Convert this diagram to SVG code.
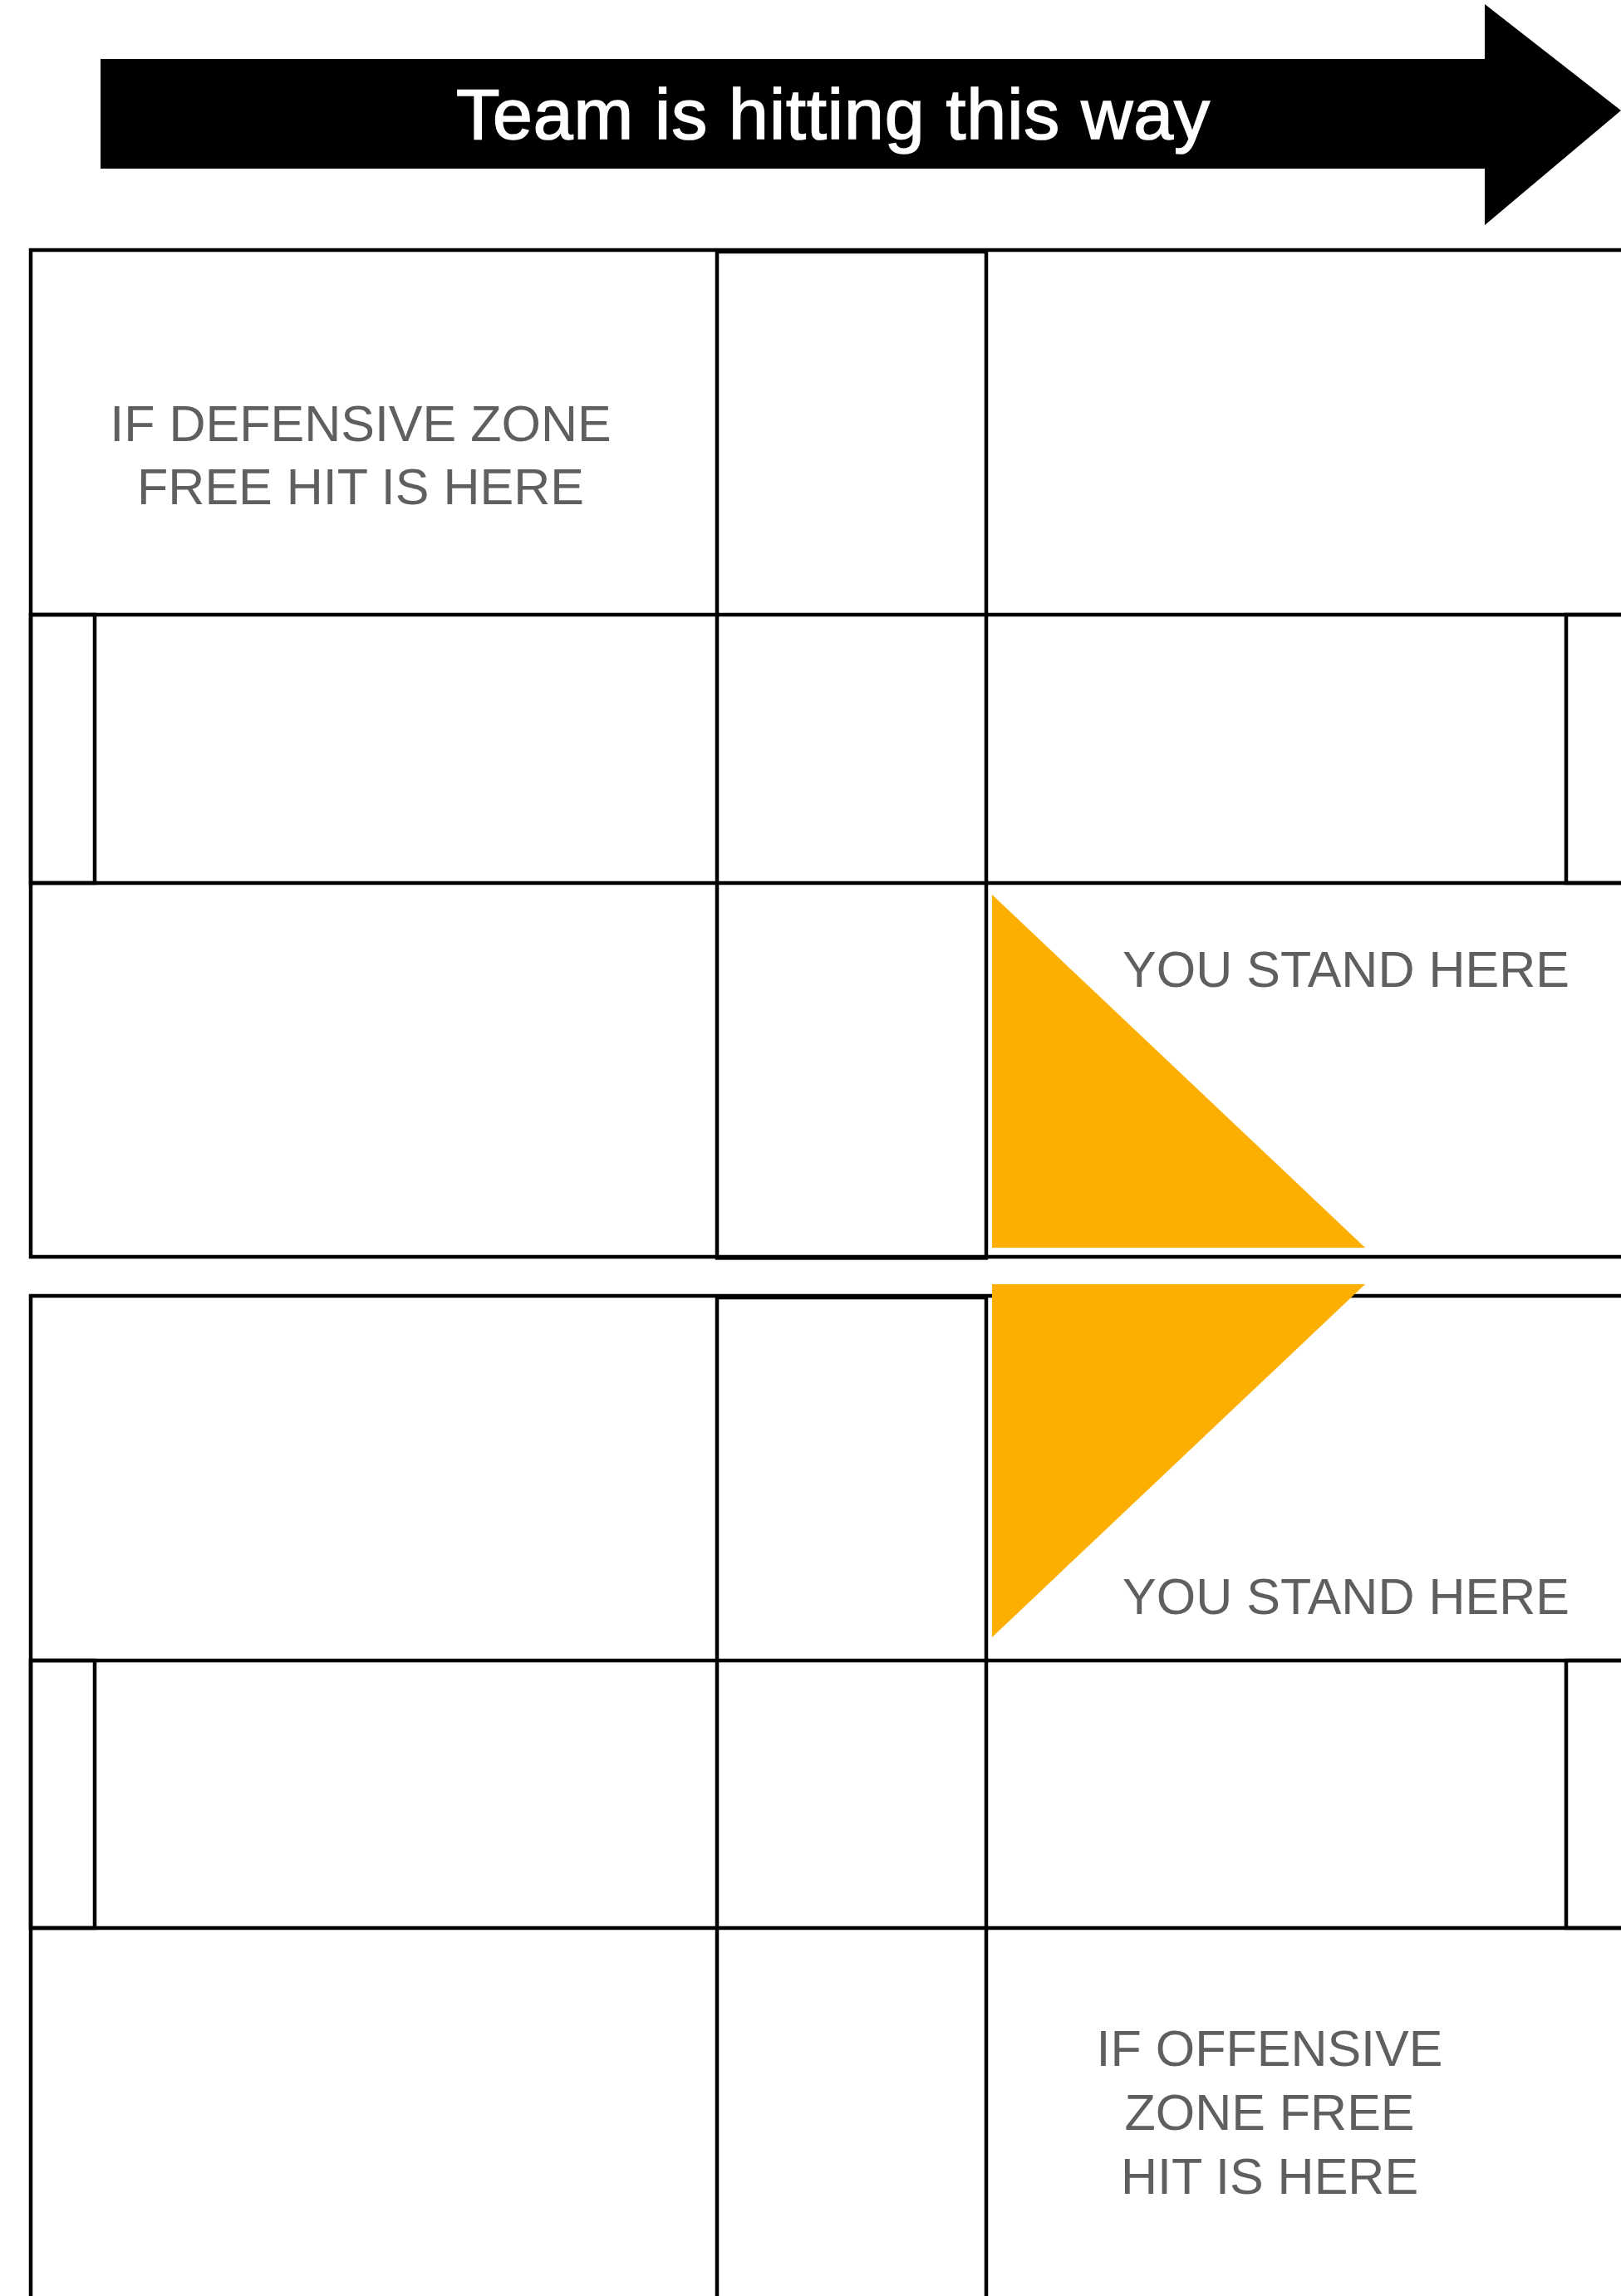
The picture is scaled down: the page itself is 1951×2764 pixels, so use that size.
<svg xmlns="http://www.w3.org/2000/svg" width="1951" height="2764" viewBox="0 0 1951 2764">
<style>
.ln{fill:none;stroke:#000;stroke-width:4.5}
.lbl{font-family:"Liberation Sans",Arial,sans-serif;font-size:61px;fill:#5f5f5f;text-anchor:middle}
.tri{fill:#FCAF00}
</style>
<rect x="0" y="0" width="1951" height="2764" fill="#fff"/>
<g id="direction-arrow">
<polygon points="121,71 1787,71 1787,5 1951,133 1787,271 1787,203 121,203" fill="#000"/>
<text x="1003" y="167" font-family="'Liberation Sans',Arial,sans-serif" font-size="86" letter-spacing="1" fill="#fff" stroke="#fff" stroke-width="1.6" text-anchor="middle">Team is hitting this way</text>
</g>
<g id="field-top">
<rect class="ln" x="37" y="301" width="1960" height="1212"/>
<line class="ln" x1="37" y1="740" x2="1951" y2="740"/>
<line class="ln" x1="37" y1="1063" x2="1951" y2="1063"/>
<rect class="ln" x="37" y="740" width="77" height="323"/>
<rect class="ln" x="1885" y="740" width="120" height="323"/>
<rect class="ln" x="863" y="303" width="324" height="1211"/>
<line x1="861" y1="1515" x2="1189" y2="1515" stroke="#000" stroke-width="3"/>
</g>
<g id="field-bottom">
<rect class="ln" x="37" y="1560" width="1960" height="1300"/>
<line class="ln" x1="37" y1="1999" x2="1951" y2="1999"/>
<line class="ln" x1="37" y1="2321" x2="1951" y2="2321"/>
<rect class="ln" x="37" y="1999" width="77" height="322"/>
<rect class="ln" x="1885" y="1999" width="120" height="322"/>
<rect class="ln" x="863" y="1562" width="324" height="1300"/>
</g>
<g id="stand-top">
<polygon class="tri" points="1194,1077 1643,1502 1194,1502"/>
</g>
<g id="stand-bottom">
<polygon class="tri" points="1194,1546 1643,1546 1194,1971"/>
</g>
<g id="labels">
<text class="lbl" x="434" y="531">IF DEFENSIVE ZONE</text>
<text class="lbl" x="434" y="607">FREE HIT IS HERE</text>
<text class="lbl" x="1620" y="1188">YOU STAND HERE</text>
<text class="lbl" x="1620" y="1943">YOU STAND HERE</text>
<text class="lbl" x="1528" y="2487">IF OFFENSIVE</text>
<text class="lbl" x="1528" y="2564">ZONE FREE</text>
<text class="lbl" x="1528" y="2641">HIT IS HERE</text>
</g>
</svg>
